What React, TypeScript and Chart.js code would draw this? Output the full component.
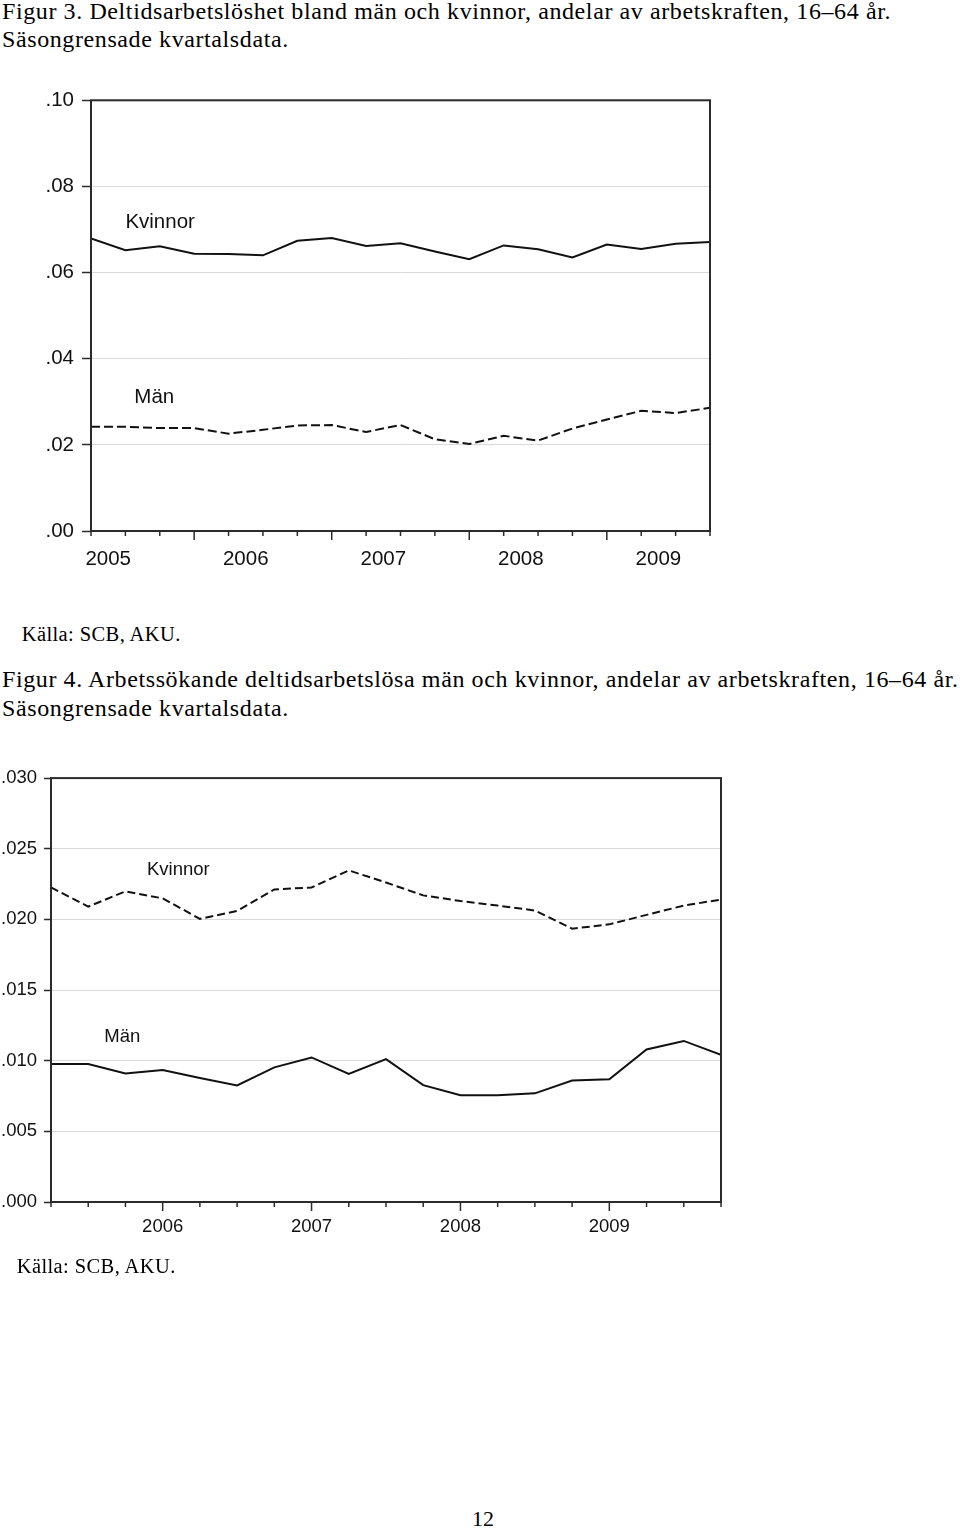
import React, { useEffect, useRef } from 'react';
import { Chart, registerables } from 'chart.js';

Chart.register(...registerables);

const SANS = "'Liberation Sans', Arial, Helvetica, sans-serif";
const SERIF = "'Liberation Serif', 'Times New Roman', Times, serif";

// ---------- Figur 3 data (2005 K1 – 2009 K3) ----------
const fig3Quarters = [
  '2005K1', '2005K2', '2005K3', '2005K4',
  '2006K1', '2006K2', '2006K3', '2006K4',
  '2007K1', '2007K2', '2007K3', '2007K4',
  '2008K1', '2008K2', '2008K3', '2008K4',
  '2009K1', '2009K2', '2009K3',
];
const fig3Kvinnor = [
  0.0679, 0.0652, 0.0661, 0.0644, 0.0643, 0.0640, 0.0674, 0.0680, 0.0662, 0.0668,
  0.0649, 0.0631, 0.0663, 0.0654, 0.0635, 0.0665, 0.0655, 0.0667, 0.0671,
];
const fig3Man = [
  0.0242, 0.0242, 0.0239, 0.0239, 0.0226, 0.0235, 0.0245, 0.0246, 0.0230, 0.0246,
  0.0213, 0.0202, 0.0221, 0.0210, 0.0238, 0.0259, 0.0279, 0.0274, 0.0286,
];
const fig3YearLabels = ['2005', '2006', '2007', '2008', '2009'];
const fig3YearLabelAt = [0.5, 4.5, 8.5, 12.5, 16.5];
const fig3YTicks = [0, 0.02, 0.04, 0.06, 0.08, 0.1];

// ---------- Figur 4 data (2005 K2 – 2009 K4) ----------
const fig4Quarters = [
  '2005K2', '2005K3', '2005K4',
  '2006K1', '2006K2', '2006K3', '2006K4',
  '2007K1', '2007K2', '2007K3', '2007K4',
  '2008K1', '2008K2', '2008K3', '2008K4',
  '2009K1', '2009K2', '2009K3', '2009K4',
];
const fig4Kvinnor = [
  0.02226, 0.02091, 0.02198, 0.02149, 0.02004, 0.02060, 0.02212, 0.02226, 0.02347, 0.02261,
  0.02170, 0.02130, 0.02098, 0.02063, 0.01934, 0.01965, 0.02032, 0.02098, 0.02140,
];
const fig4Man = [
  0.00976, 0.00976, 0.00909, 0.00934, 0.00878, 0.00825, 0.00953, 0.01023, 0.00906, 0.01011,
  0.00827, 0.00755, 0.00755, 0.00769, 0.00860, 0.00869, 0.01079, 0.01140, 0.01042,
];
const fig4YearLabels = ['2006', '2007', '2008', '2009'];
const fig4YearLabelAt = [3, 7, 11, 15];
const fig4YTicks = [0, 0.005, 0.01, 0.015, 0.02, 0.025, 0.03];

const longTickIdx = [3, 7, 11, 15];

type Note = { text: string; x: number; y: number };

type Spec = {
  quarters: string[];
  series: { label: string; data: number[]; dash: number[] }[];
  yTicks: number[];
  decimals: number;
  yearLabels: string[];
  yearAt: number[];
  fontSize: number;
  yWidth: number;
  xHeight: number;
  padding: { top: number; right: number; bottom: number; left: number };
  yTickLen: number;
  yTickPad: number;
  xLabelPad: number;
  notes: Note[];
};

function makeFramePlugin(spec: Spec) {
  return {
    id: 'frameTicks',
    afterDraw(chart: any) {
      const { ctx, chartArea: a, scales } = chart;
      const xs = scales.x;
      const ys = scales.y;
      ctx.save();
      ctx.strokeStyle = '#2b2b2b';
      ctx.lineWidth = 2;
      ctx.strokeRect(a.left, a.top, a.right - a.left, a.bottom - a.top);
      ctx.lineWidth = 1.5;
      for (let i = 0; i < spec.quarters.length; i++) {
        const x = xs.getPixelForValue(i);
        const len = longTickIdx.includes(i) ? 9 : 5;
        ctx.beginPath();
        ctx.moveTo(x, a.bottom);
        ctx.lineTo(x, a.bottom + len);
        ctx.stroke();
      }
      ctx.fillStyle = '#111';
      ctx.font = `${spec.fontSize}px ${SANS}`;
      ctx.textAlign = 'left';
      ctx.textBaseline = 'middle';
      for (const n of spec.notes) {
        ctx.fillText(n.text, xs.getPixelForValue(n.x), ys.getPixelForValue(n.y));
      }
      ctx.restore();
    },
  };
}

function buildConfig(spec: Spec): any {
  const yMax = spec.yTicks[spec.yTicks.length - 1];
  const font = { family: SANS, size: spec.fontSize };
  return {
    type: 'line',
    data: {
      datasets: spec.series.map((s) => ({
        label: s.label,
        data: s.data.map((v, i) => ({ x: i, y: v })),
        borderColor: '#111',
        borderWidth: 2,
        borderDash: s.dash,
        pointRadius: 0,
        tension: 0,
        fill: false,
      })),
    },
    options: {
      animation: false,
      responsive: false,
      events: [],
      layout: { padding: spec.padding },
      plugins: { legend: { display: false }, tooltip: { enabled: false } },
      scales: {
        x: {
          type: 'linear',
          min: 0,
          max: spec.quarters.length - 1,
          afterBuildTicks: (scale: any) => {
            scale.ticks = spec.yearAt.map((v) => ({ value: v }));
          },
          afterFit: (scale: any) => {
            scale.height = spec.xHeight;
          },
          grid: { display: false, drawTicks: false },
          border: { display: false },
          ticks: {
            autoSkip: false,
            maxRotation: 0,
            padding: spec.xLabelPad,
            color: '#111',
            font,
            callback: (_v: any, idx: number) => spec.yearLabels[idx],
          },
        },
        y: {
          type: 'linear',
          min: 0,
          max: yMax,
          afterBuildTicks: (scale: any) => {
            scale.ticks = spec.yTicks.map((v) => ({ value: v }));
          },
          afterFit: (scale: any) => {
            scale.width = spec.yWidth;
          },
          border: { display: false },
          grid: {
            color: (ctx: any) => {
              const v = ctx.tick ? ctx.tick.value : 0;
              return v < 1e-9 || Math.abs(v - yMax) < 1e-9 ? 'rgba(0,0,0,0)' : '#d9d9d9';
            },
            lineWidth: 1,
            tickColor: '#2b2b2b',
            tickWidth: 1.5,
            tickLength: spec.yTickLen,
          },
          ticks: {
            padding: spec.yTickPad,
            color: '#111',
            font,
            callback: (v: any) => Number(v).toFixed(spec.decimals).replace(/^0/, ''),
          },
        },
      },
    },
    plugins: [makeFramePlugin(spec)],
  };
}

const spec3: Spec = {
  quarters: fig3Quarters,
  series: [
    { label: 'Kvinnor', data: fig3Kvinnor, dash: [] },
    { label: 'Män', data: fig3Man, dash: [9, 4] },
  ],
  yTicks: fig3YTicks,
  decimals: 2,
  yearLabels: fig3YearLabels,
  yearAt: fig3YearLabelAt,
  fontSize: 20.5,
  yWidth: 91,
  xHeight: 59,
  padding: { top: 19, right: 30, bottom: 0, left: 0 },
  yTickLen: 9,
  yTickPad: 8,
  xLabelPad: 16,
  notes: [
    { text: 'Kvinnor', x: 1.0, y: 0.0716 },
    { text: 'Män', x: 1.26, y: 0.031 },
  ],
};

const spec4: Spec = {
  quarters: fig4Quarters,
  series: [
    { label: 'Kvinnor', data: fig4Kvinnor, dash: [8, 4] },
    { label: 'Män', data: fig4Man, dash: [] },
  ],
  yTicks: fig4YTicks,
  decimals: 3,
  yearLabels: fig4YearLabels,
  yearAt: fig4YearLabelAt,
  fontSize: 18.5,
  yWidth: 51,
  xHeight: 58,
  padding: { top: 13, right: 19, bottom: 0, left: 0 },
  yTickLen: 7,
  yTickPad: 7,
  xLabelPad: 14,
  notes: [
    { text: 'Kvinnor', x: 2.58, y: 0.02352 },
    { text: 'Män', x: 1.43, y: 0.01165 },
  ],
};

function LineChart({ spec, left, top, width, height }: { spec: Spec; left: number; top: number; width: number; height: number }) {
  const ref = useRef<HTMLCanvasElement | null>(null);
  useEffect(() => {
    if (!ref.current) return;
    const chart = new Chart(ref.current, buildConfig(spec));
    return () => chart.destroy();
  }, [spec]);
  return (
    <canvas
      ref={ref}
      width={width}
      height={height}
      style={{ position: 'absolute', left, top, width, height, display: 'block' }}
    />
  );
}

function Txt({ children, left, top, size, spacing }: { children: React.ReactNode; left: number; top: number; size: number; spacing: number }) {
  return (
    <div
      style={{
        position: 'absolute',
        left,
        top,
        fontFamily: SERIF,
        fontSize: size,
        lineHeight: `${size}px`,
        letterSpacing: spacing,
        whiteSpace: 'nowrap',
        color: '#000',
      }}
    >
      {children}
    </div>
  );
}

export default function App() {
  return (
    <div style={{ position: 'absolute', left: 0, top: 0, width: 960, height: 1528, background: '#fff', overflow: 'hidden' }}>
      <Txt left={2} top={-1.1} size={24} spacing={0.6}>
        Figur 3. Deltidsarbetslöshet bland män och kvinnor, andelar av arbetskraften, 16–64 år.
      </Txt>
      <Txt left={2} top={26.6} size={24} spacing={0.6}>
        Säsongrensade kvartalsdata.
      </Txt>
      <LineChart spec={spec3} left={0} top={80} width={740} height={510} />
      <Txt left={21.7} top={623.5} size={20.5} spacing={0.4}>
        Källa: SCB, AKU.
      </Txt>
      <Txt left={2} top={667.2} size={24} spacing={0.6}>
        Figur 4. Arbetssökande deltidsarbetslösa män och kvinnor, andelar av arbetskraften, 16–64 år.
      </Txt>
      <Txt left={2} top={695.9} size={24} spacing={0.6}>
        Säsongrensade kvartalsdata.
      </Txt>
      <LineChart spec={spec4} left={0} top={760} width={740} height={500} />
      <Txt left={16.7} top={1255.8} size={20.5} spacing={0.4}>
        Källa: SCB, AKU.
      </Txt>
      <Txt left={472} top={1507.6} size={22} spacing={0}>
        12
      </Txt>
    </div>
  );
}
